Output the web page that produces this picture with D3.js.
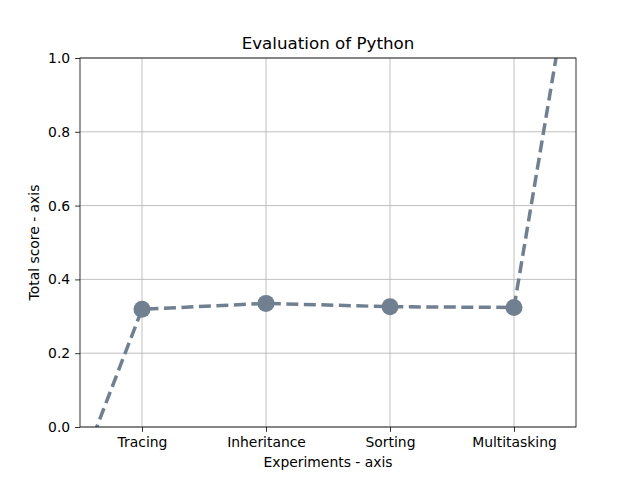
<!DOCTYPE html>
<html><head><meta charset="utf-8">
<script src="https://cdn.jsdelivr.net/npm/d3@7"></script>
<style>body{margin:0;background:#fff}text{font-family:"DejaVu Sans",sans-serif;fill:#000}</style>
</head><body>
<svg id="c" width="640" height="480"></svg>
<script>
const categories = ["Tracing", "Inheritance", "Sorting", "Multitasking"];
const scores = [0.319, 0.335, 0.326, 0.324];
// line continues past the visible axes on both sides (clipped)
const lineIndex = [-1, 0, 1, 2, 3, 4];
const lineValues = [-0.555, 0.319, 0.335, 0.326, 0.324, 2.32];
const yTicks = [0.0, 0.2, 0.4, 0.6, 0.8, 1.0];

const svg = d3.select("#c");
const L = 80, R = 576, T = 58, B = 427;
const x = d3.scaleLinear().domain([-0.5, 3.5]).range([L, R]);
const y = d3.scaleLinear().domain([0, 1]).range([B, T]);
const color = "#708090";

svg.append("defs").append("clipPath").attr("id", "clip")
  .append("rect").attr("x", L).attr("y", T).attr("width", R - L).attr("height", B - T);

// grid
const grid = svg.append("g");
grid.selectAll(".gx").data(categories).enter().append("line")
  .attr("x1", (d, i) => x(i)).attr("x2", (d, i) => x(i)).attr("y1", T).attr("y2", B)
  .attr("stroke", "#b0b0b0").attr("stroke-width", 0.8);
grid.selectAll(".gy").data(yTicks).enter().append("line")
  .attr("x1", L).attr("x2", R).attr("y1", d => y(d)).attr("y2", d => y(d))
  .attr("stroke", "#b0b0b0").attr("stroke-width", 0.8);

// line
const pts = lineIndex.map((v, i) => [v, lineValues[i]]);
svg.append("path").datum(pts).attr("clip-path", "url(#clip)")
  .attr("d", d3.line().x(d => x(d[0])).y(d => y(d[1])))
  .attr("fill", "none").attr("stroke", color).attr("stroke-width", 3.5)
  .attr("stroke-dasharray", "12,5.5");

// markers
svg.selectAll(".pt").data(scores).enter().append("circle")
  .attr("cx", (d, i) => x(i)).attr("cy", d => y(d)).attr("r", 8.5).attr("fill", color);

// axes
const xAxis = d3.axisBottom(x).tickValues([0, 1, 2, 3]).tickFormat(i => categories[i]).tickSize(4.9).tickPadding(4.9);
const gx = svg.append("g").attr("transform", `translate(0,${B})`).call(xAxis);
const yAxis = d3.axisLeft(y).tickValues(yTicks).tickFormat(d3.format(".1f")).tickSize(4.9).tickPadding(4.9);
const gy = svg.append("g").attr("transform", `translate(${L},0)`).call(yAxis);
[gx, gy].forEach(g => {
  g.select(".domain").remove();
  g.selectAll("line").attr("stroke", "#000").attr("stroke-width", 0.8);
  g.selectAll("text").attr("font-size", 13.9).attr("font-family", "DejaVu Sans").attr("fill", "#000");
});

// frame
svg.append("rect").attr("x", L).attr("y", T).attr("width", R - L).attr("height", B - T)
  .attr("fill", "none").attr("stroke", "#000").attr("stroke-width", 0.8);

// titles
svg.append("text").attr("x", (L + R) / 2).attr("y", 49).attr("text-anchor", "middle")
  .attr("font-size", 16.7).text("Evaluation of Python");
svg.append("text").attr("x", (L + R) / 2).attr("y", 467).attr("text-anchor", "middle")
  .attr("font-size", 13.9).text("Experiments - axis");
svg.append("text").attr("transform", `translate(39,${(T + B) / 2}) rotate(-90)`).attr("text-anchor", "middle")
  .attr("font-size", 13.9).text("Total score - axis");
</script>
</body></html>
